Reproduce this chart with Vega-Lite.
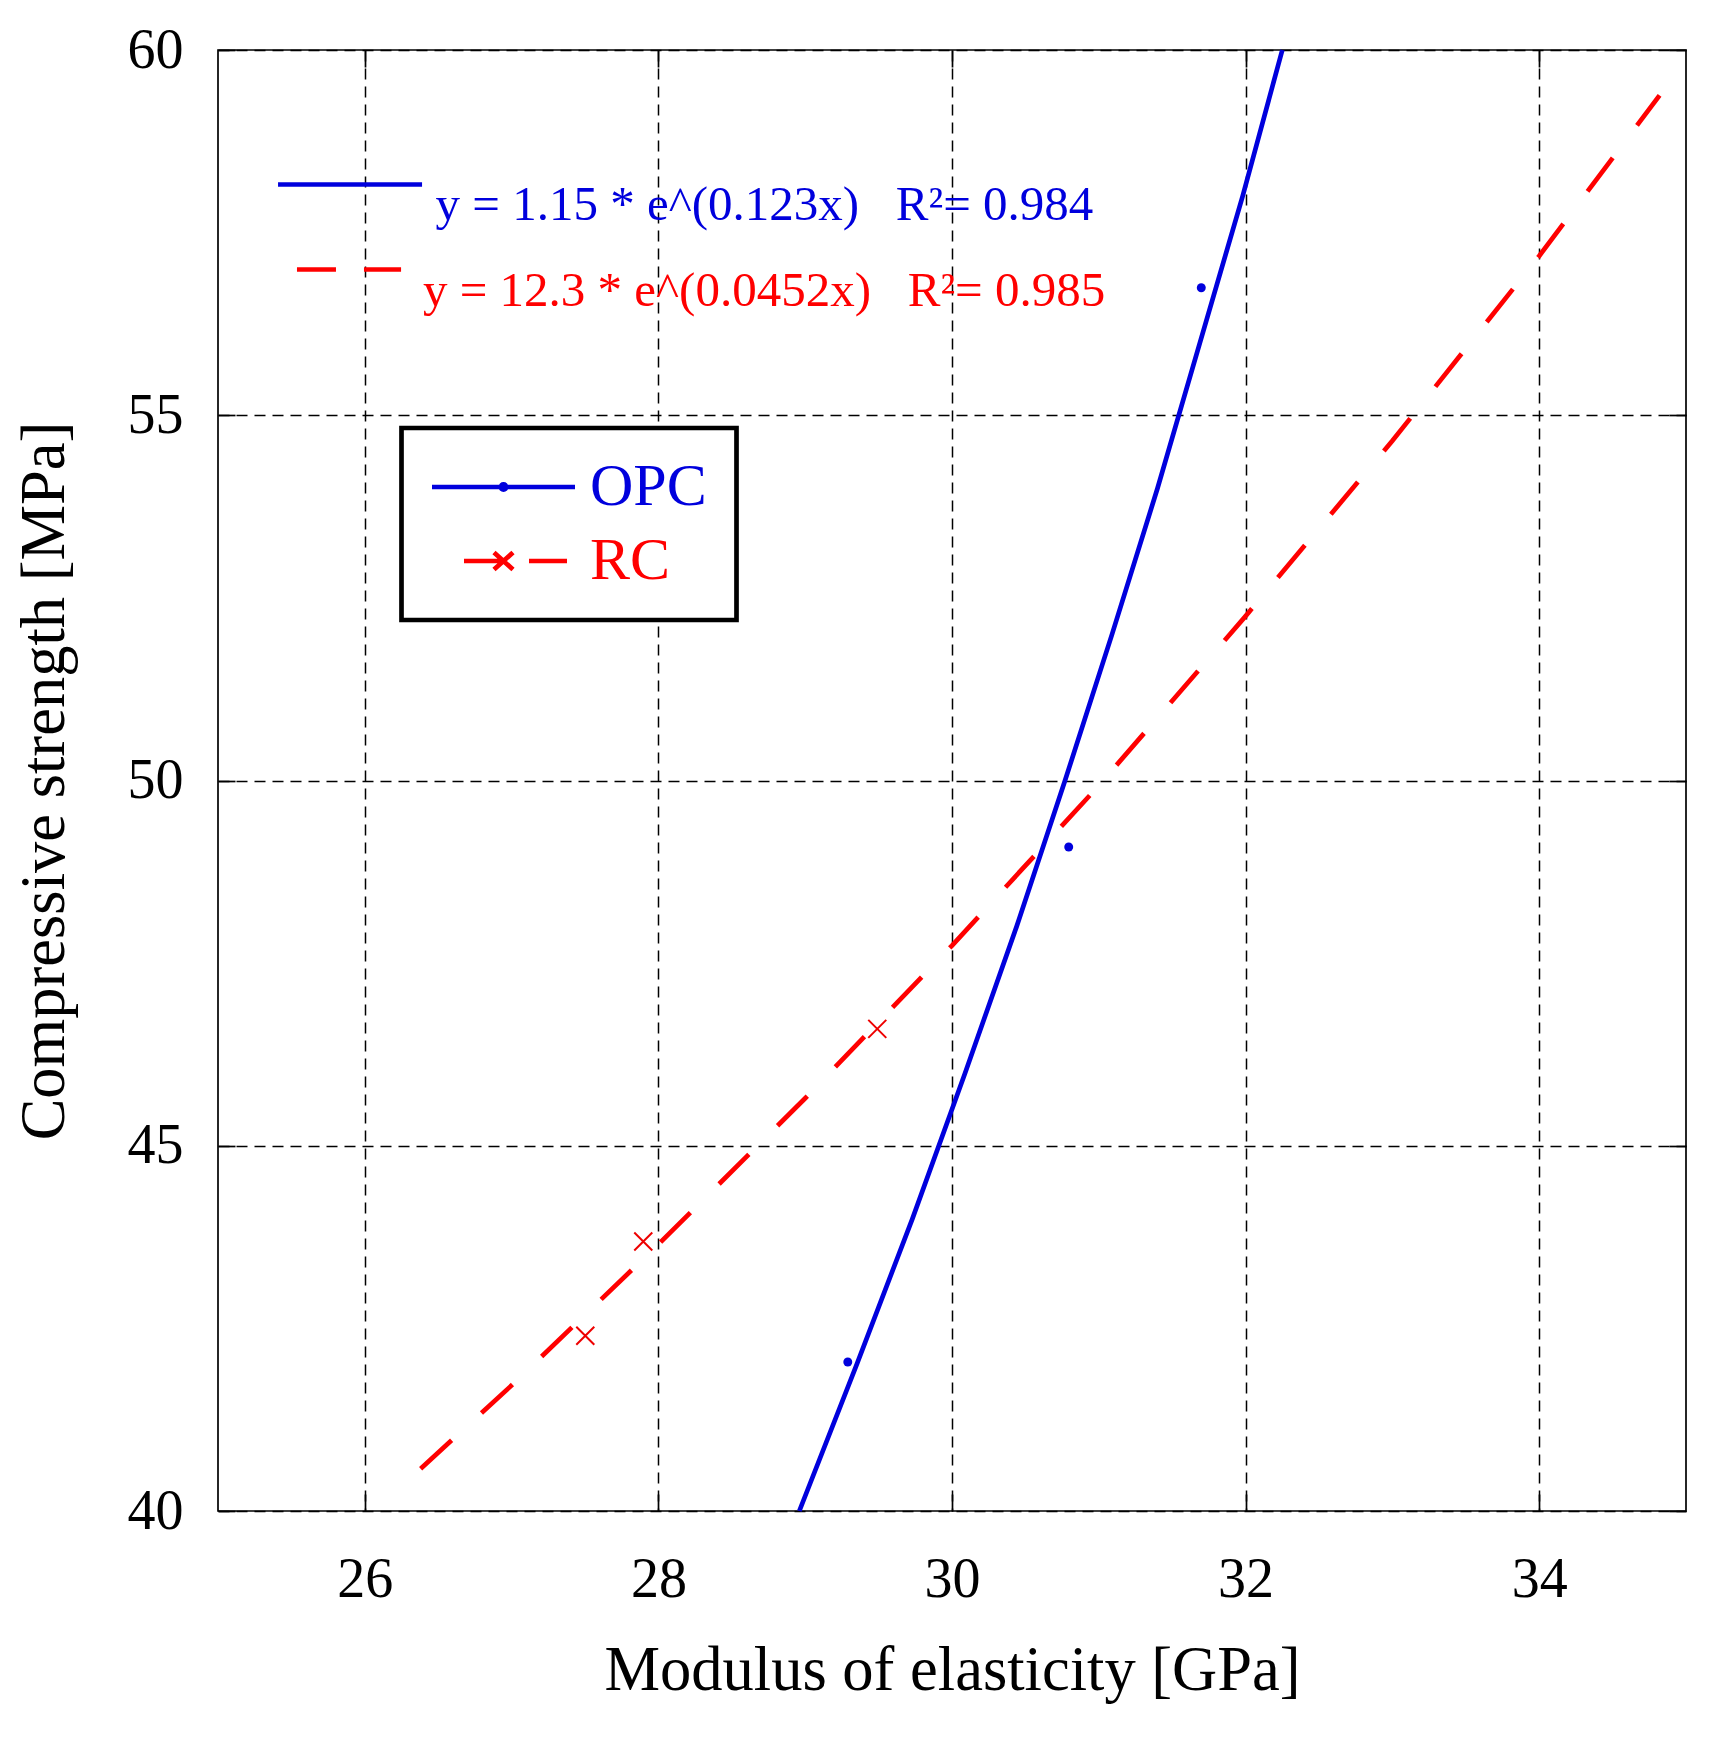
{
  "$schema": "https://vega.github.io/schema/vega-lite/v6.json",
  "width": 1468,
  "height": 1461,
  "autosize": {"type": "none"},
  "padding": {"left": 218, "top": 50, "right": 38, "bottom": 231},
  "background": "white",
  "config": {
    "font": "Liberation Serif",
    "view": {"stroke": "black", "strokeWidth": 1.7},
    "legend": {"strokeColor": "black", "strokeWidth": 4.7, "fillColor": "white", "padding": 29}
  },
  "datasets": {
    "fits": [
      {"series": "OPC", "x": 28.96, "y": 40.0},
      {"series": "OPC", "x": 29.35, "y": 42.0},
      {"series": "OPC", "x": 29.73, "y": 44.0},
      {"series": "OPC", "x": 30.09, "y": 46.0},
      {"series": "OPC", "x": 30.44, "y": 48.0},
      {"series": "OPC", "x": 30.77, "y": 50.0},
      {"series": "OPC", "x": 31.09, "y": 52.0},
      {"series": "OPC", "x": 31.40, "y": 54.0},
      {"series": "OPC", "x": 31.69, "y": 56.0},
      {"series": "OPC", "x": 31.98, "y": 58.0},
      {"series": "OPC", "x": 32.25, "y": 60.0},
      {"series": "RC", "x": 26.31, "y": 40.45},
      {"series": "RC", "x": 27.0, "y": 41.72},
      {"series": "RC", "x": 28.0, "y": 43.65},
      {"series": "RC", "x": 29.0, "y": 45.65},
      {"series": "RC", "x": 30.0, "y": 47.74},
      {"series": "RC", "x": 31.0, "y": 49.93},
      {"series": "RC", "x": 32.0, "y": 52.25},
      {"series": "RC", "x": 33.0, "y": 54.65},
      {"series": "RC", "x": 34.0, "y": 57.18},
      {"series": "RC", "x": 34.82, "y": 59.38}
    ],
    "points": [
      {"series": "OPC", "x": 29.29, "y": 42.04},
      {"series": "OPC", "x": 30.795, "y": 49.09},
      {"series": "OPC", "x": 31.698, "y": 56.745},
      {"series": "RC", "x": 27.502, "y": 42.4},
      {"series": "RC", "x": 27.897, "y": 43.69},
      {"series": "RC", "x": 29.491, "y": 46.6}
    ],
    "notes": [
      {"series": "OPC", "x1": 25.409, "x2": 26.39, "ly": 58.159, "tx": 26.482, "ty": 57.666, "label": "y = 1.15 * e^(0.123x)\u00a0\u00a0\u00a0R²= 0.984"},
      {"series": "RC", "x1": 25.538, "x2": 26.247, "ly": 56.995, "tx": 26.396, "ty": 56.502, "label": "y = 12.3 * e^(0.0452x)\u00a0\u00a0\u00a0R²= 0.985"}
    ]
  },
  "resolve": {"axis": {"x": "independent", "y": "independent"}},
  "layer": [
    {
      "data": {"name": "fits"},
      "transform": [{"filter": "datum.series == 'RC'"}],
      "mark": {"type": "line", "color": "#ff0000", "strokeWidth": 4.7, "strokeDash": [42, 40.5], "strokeDashOffset": 68.5, "strokeCap": "butt"},
      "encoding": {
        "x": {
          "field": "x", "type": "quantitative",
          "scale": {"domain": [25, 35], "nice": false, "zero": false},
          "axis": {
            "title": "Modulus of elasticity [GPa]",
            "values": [26, 28, 30, 32, 34], "format": "d",
            "domain": false,
            "grid": true, "gridColor": "black", "gridDash": [11, 7], "gridWidth": 1.5, "gridOpacity": 1,
            "ticks": true, "tickSize": -17, "tickColor": "black", "tickWidth": 1.7,
            "labelFontSize": 56, "labelColor": "black", "labelPadding": 58, "labelFlush": false,
            "titleFontSize": 62.5, "titleFontWeight": "normal", "titleColor": "black", "titlePadding": 33
          }
        },
        "y": {
          "field": "y", "type": "quantitative",
          "scale": {"domain": [40, 60], "nice": false, "zero": false},
          "axis": {
            "title": "Compressive strength [MPa]",
            "values": [40, 45, 50, 55, 60], "format": "d",
            "domain": false,
            "grid": true, "gridColor": "black", "gridDash": [11, 7], "gridWidth": 1.5, "gridOpacity": 1,
            "ticks": true, "tickSize": -17, "tickColor": "black", "tickWidth": 1.7,
            "labelFontSize": 56, "labelColor": "black", "labelPadding": 52, "labelFlush": false,
            "titleFontSize": 62.5, "titleFontWeight": "normal", "titleColor": "black", "titlePadding": 51
          }
        }
      }
    },
    {
      "data": {"name": "fits"},
      "transform": [{"filter": "datum.series == 'OPC'"}],
      "mark": {"type": "line", "color": "#0000dd", "strokeWidth": 4.7},
      "encoding": {
        "x": {
          "field": "x", "type": "quantitative",
          "axis": {
            "orient": "top", "title": null, "values": [26, 28, 30, 32, 34],
            "domain": false, "grid": false, "labels": false,
            "ticks": true, "tickSize": -17, "tickColor": "black", "tickWidth": 1.7
          }
        },
        "y": {
          "field": "y", "type": "quantitative",
          "axis": {
            "orient": "right", "title": null, "values": [40, 45, 50, 55, 60],
            "domain": false, "grid": false, "labels": false,
            "ticks": true, "tickSize": -17, "tickColor": "black", "tickWidth": 1.7
          }
        }
      }
    },
    {
      "data": {"name": "points"},
      "transform": [{"filter": "datum.series == 'OPC'"}],
      "mark": {"type": "point", "shape": "circle", "filled": true, "color": "#0000dd", "size": 80, "opacity": 1},
      "encoding": {
        "x": {"field": "x", "type": "quantitative", "axis": null},
        "y": {"field": "y", "type": "quantitative", "axis": null}
      }
    },
    {
      "data": {"name": "points"},
      "transform": [{"filter": "datum.series == 'RC'"}],
      "mark": {"type": "point", "shape": "M-1,-1L1,1M-1,1L1,-1", "filled": false, "color": "#ee0000", "size": 324, "strokeWidth": 2, "opacity": 1},
      "encoding": {
        "x": {"field": "x", "type": "quantitative", "axis": null},
        "y": {"field": "y", "type": "quantitative", "axis": null}
      }
    },
    {
      "data": {"name": "notes"},
      "transform": [{"filter": "datum.series == 'OPC'"}],
      "mark": {"type": "rule", "color": "#0000dd", "strokeWidth": 4.7},
      "encoding": {
        "x": {"field": "x1", "type": "quantitative", "axis": null},
        "x2": {"field": "x2"},
        "y": {"field": "ly", "type": "quantitative", "axis": null}
      }
    },
    {
      "data": {"name": "notes"},
      "transform": [{"filter": "datum.series == 'RC'"}],
      "mark": {"type": "rule", "color": "#ff0000", "strokeWidth": 4.7, "strokeDash": [39, 28], "strokeCap": "butt"},
      "encoding": {
        "x": {"field": "x1", "type": "quantitative", "axis": null},
        "x2": {"field": "x2"},
        "y": {"field": "ly", "type": "quantitative", "axis": null}
      }
    },
    {
      "data": {"name": "notes"},
      "transform": [{"filter": "datum.series == 'OPC'"}],
      "mark": {"type": "text", "align": "left", "baseline": "alphabetic", "font": "Liberation Serif", "fontSize": 49, "color": "#0000dd"},
      "encoding": {
        "x": {"field": "tx", "type": "quantitative", "axis": null},
        "y": {"field": "ty", "type": "quantitative", "axis": null},
        "text": {"field": "label"}
      }
    },
    {
      "data": {"name": "notes"},
      "transform": [{"filter": "datum.series == 'RC'"}],
      "mark": {"type": "text", "align": "left", "baseline": "alphabetic", "font": "Liberation Serif", "fontSize": 49, "color": "#ff0000"},
      "encoding": {
        "x": {"field": "tx", "type": "quantitative", "axis": null},
        "y": {"field": "ty", "type": "quantitative", "axis": null},
        "text": {"field": "label"}
      }
    },
    {
      "data": {"name": "points"},
      "transform": [{"filter": "false"}],
      "mark": {"type": "point", "filled": false, "opacity": 1},
      "encoding": {
        "color": {
          "field": "series", "type": "nominal",
          "scale": {"domain": ["OPC", "RC"], "range": ["#0000dd", "#ff0000"]},
          "legend": {
            "title": "\u00a0", "titleOrient": "left", "titleFontSize": 10, "titlePadding": 43,
            "orient": "none", "legendX": 183.5, "legendY": 378,
            "symbolSize": 400, "symbolStrokeWidth": 4.7, "symbolFillColor": "transparent", "symbolOpacity": 1,
            "labelFont": "Liberation Serif", "labelFontSize": 60, "labelOffset": 56.5, "labelLimit": 400, "rowPadding": 14,
            "labelColor": {"expr": "datum.value == 'OPC' ? '#0000dd' : '#ff0000'"}
          }
        },
        "shape": {
          "field": "series", "type": "nominal",
          "scale": {
            "domain": ["OPC", "RC"],
            "range": [
              "M-7.15,0L7.15,0M0.27,0A0.27,0.27,0,1,1,-0.27,0A0.27,0.27,0,1,1,0.27,0",
              "M-3.95,0L-0.15,0M-0.95,-0.85L0.95,0.85M-0.95,0.85L0.95,-0.85M2.55,0L6.35,0"
            ]
          },
          "legend": {
            "title": "\u00a0", "titleOrient": "left", "titleFontSize": 10, "titlePadding": 43,
            "orient": "none", "legendX": 183.5, "legendY": 378,
            "symbolSize": 400, "symbolStrokeWidth": 4.7, "symbolFillColor": "transparent", "symbolOpacity": 1,
            "labelFont": "Liberation Serif", "labelFontSize": 60, "labelOffset": 56.5, "labelLimit": 400, "rowPadding": 14,
            "labelColor": {"expr": "datum.value == 'OPC' ? '#0000dd' : '#ff0000'"}
          }
        }
      }
    }
  ]
}
